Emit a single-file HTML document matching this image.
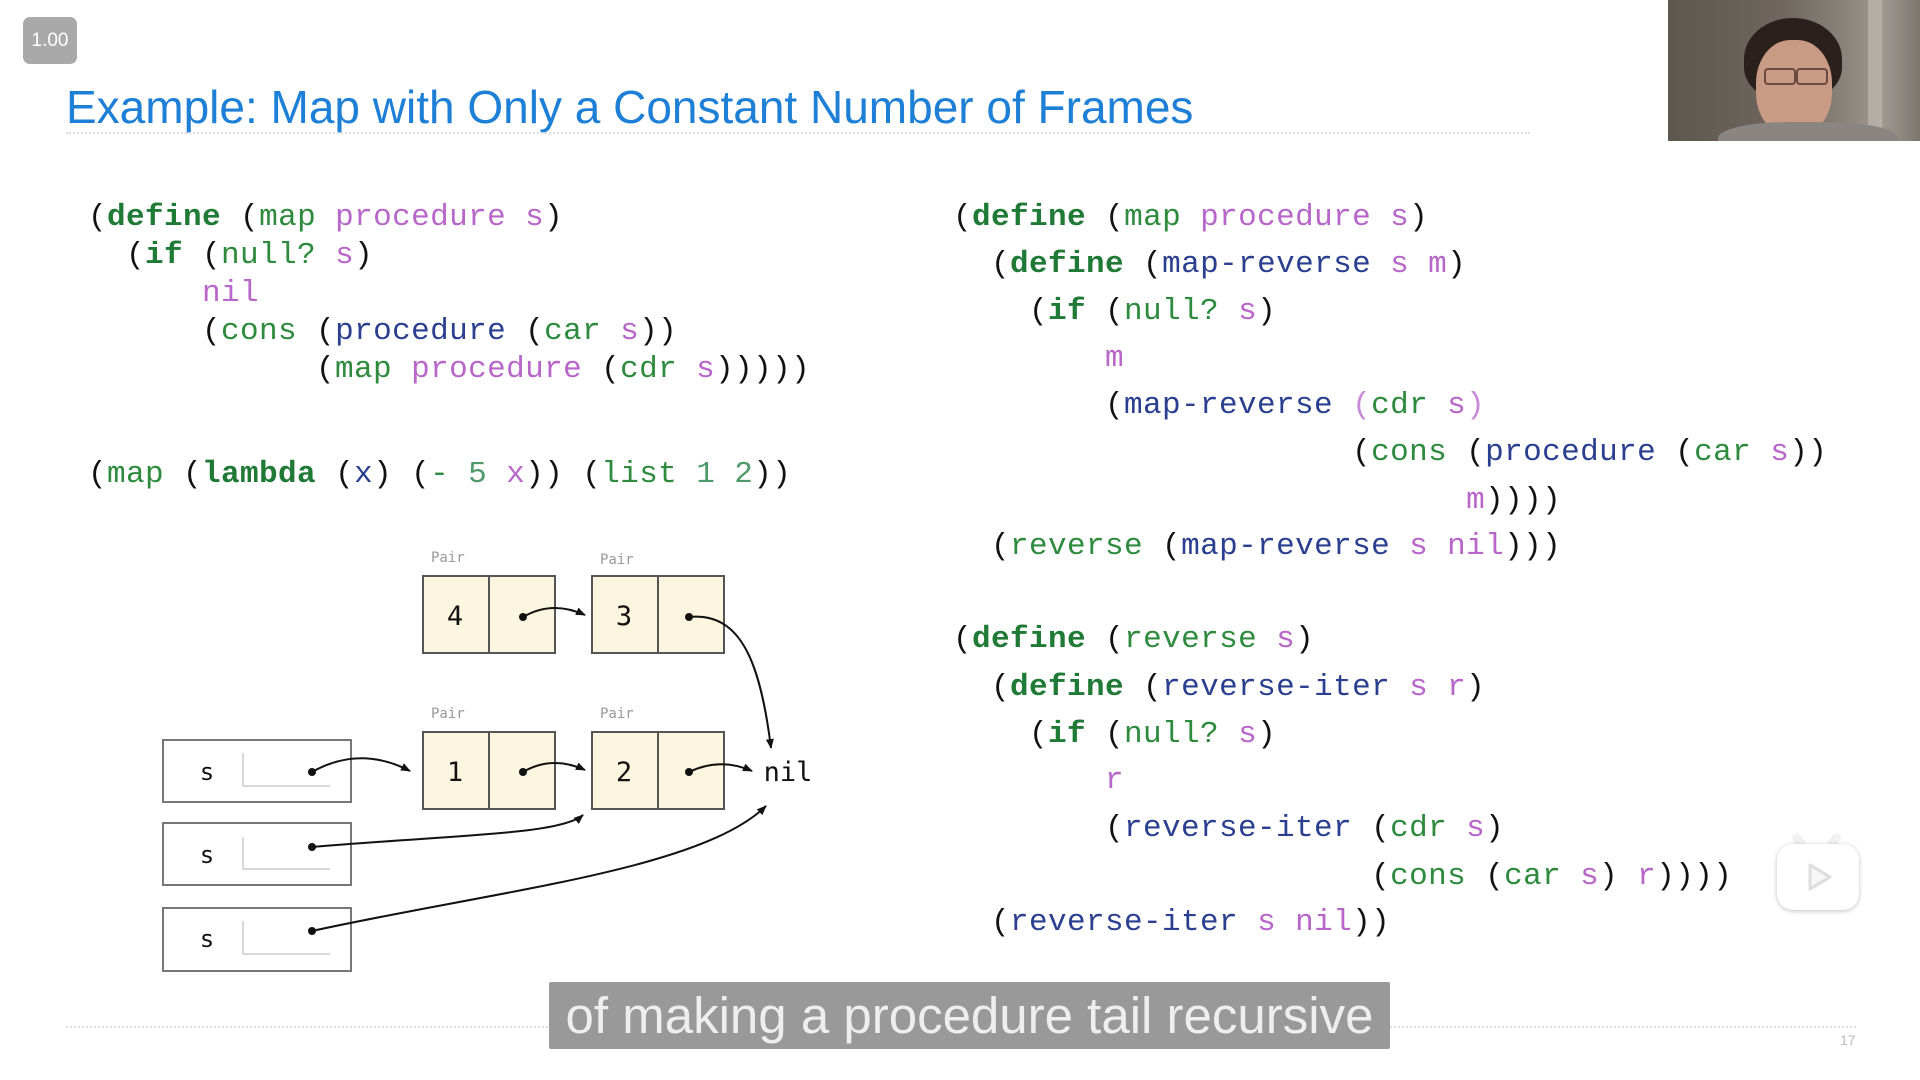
<!DOCTYPE html>
<html><head><meta charset="utf-8"><style>
html,body{margin:0;padding:0;background:#fff;}
body{width:1920px;height:1080px;position:relative;overflow:hidden;font-family:"Liberation Sans",sans-serif;}
.code{position:absolute;font-family:"Liberation Mono",monospace;font-size:31px;white-space:pre;line-height:40px;color:#111;letter-spacing:0.4px;}
.k{color:#1f7a36;font-weight:bold}
.b{color:#2e8b3e}
.p{color:#b866c9}
.n{color:#2a3f8f}
.num{color:#4f9a6a}
.pp{color:#c88ad6}
.lbl{position:absolute;font-family:"DejaVu Sans Mono",monospace;font-size:14px;color:#999;}
</style></head><body>

<div style="position:absolute;left:23px;top:17px;width:54px;height:47px;background:#a9a9a9;border-radius:7px;color:#fff;font-size:19px;line-height:47px;text-align:center;">1.00</div>

<div style="position:absolute;left:66px;top:80px;font-size:46px;color:#1d7fd6;white-space:nowrap;">Example: Map with Only a Constant Number of Frames</div>
<div style="position:absolute;left:66px;top:132px;width:1464px;border-top:2px dotted #ddd;"></div>
<div style="position:absolute;left:66px;top:1026px;width:1790px;border-top:2px dotted #ddd;"></div>
<div style="position:absolute;left:1840px;top:1032px;font-size:14px;color:#bbb;">17</div>

<!-- webcam -->
<div style="position:absolute;left:1668px;top:0;width:252px;height:141px;overflow:hidden;background:linear-gradient(90deg,#5e5750 0%,#6e665e 45%,#8a837b 70%,#a09992 85%,#7d766f 100%);">
  <div style="position:absolute;left:200px;top:0;width:14px;height:141px;background:#c5beb6;opacity:.6"></div>
  <div style="position:absolute;left:76px;top:18px;width:98px;height:82px;border-radius:50% 50% 40% 40%;background:#2a211c;"></div>
  <div style="position:absolute;left:88px;top:40px;width:76px;height:96px;border-radius:45%;background:#c99a84;"></div>
  <div style="position:absolute;left:96px;top:68px;width:28px;height:13px;border:2px solid #6a4a40;border-radius:4px;"></div>
  <div style="position:absolute;left:128px;top:68px;width:28px;height:13px;border:2px solid #6a4a40;border-radius:4px;"></div>
  <div style="position:absolute;left:50px;top:122px;width:180px;height:40px;border-radius:40% 40% 0 0;background:#8a8580;"></div>
</div>

<!-- left code -->
<div class="code" style="left:88px;top:198px;">(<span class="k">define</span> (<span class="b">map</span> <span class="p">procedure</span> <span class="p">s</span>)</div>
<div class="code" style="left:88px;top:236px;">  (<span class="k">if</span> (<span class="b">null?</span> <span class="p">s</span>)</div>
<div class="code" style="left:88px;top:274px;">      <span class="p">nil</span></div>
<div class="code" style="left:88px;top:312px;">      (<span class="b">cons</span> (<span class="n">procedure</span> (<span class="b">car</span> <span class="p">s</span>))</div>
<div class="code" style="left:88px;top:350px;">            (<span class="b">map</span> <span class="p">procedure</span> (<span class="b">cdr</span> <span class="p">s</span>)))))</div>
<div class="code" style="left:88px;top:455px;">(<span class="b">map</span> (<span class="k">lambda</span> (<span class="n">x</span>) (<span class="b">-</span> <span class="num">5</span> <span class="p">x</span>)) (<span class="b">list</span> <span class="num">1</span> <span class="num">2</span>))</div>

<!-- right code -->
<div class="code" style="left:953px;top:198px;">(<span class="k">define</span> (<span class="b">map</span> <span class="p">procedure</span> <span class="p">s</span>)</div>
<div class="code" style="left:953px;top:245px;">  (<span class="k">define</span> (<span class="n">map-reverse</span> <span class="p">s</span> <span class="p">m</span>)</div>
<div class="code" style="left:953px;top:292px;">    (<span class="k">if</span> (<span class="b">null?</span> <span class="p">s</span>)</div>
<div class="code" style="left:953px;top:339px;">        <span class="p">m</span></div>
<div class="code" style="left:953px;top:386px;">        (<span class="n">map-reverse</span> <span class="pp">(</span><span class="b">cdr</span> <span class="p">s</span><span class="pp">)</span></div>
<div class="code" style="left:953px;top:433px;">                     (<span class="b">cons</span> (<span class="n">procedure</span> (<span class="b">car</span> <span class="p">s</span>))</div>
<div class="code" style="left:953px;top:481px;">                           <span class="p">m</span>))))</div>
<div class="code" style="left:953px;top:527px;">  (<span class="b">reverse</span> (<span class="n">map-reverse</span> <span class="p">s</span> <span class="p">nil</span>)))</div>

<div class="code" style="left:953px;top:620px;">(<span class="k">define</span> (<span class="b">reverse</span> <span class="p">s</span>)</div>
<div class="code" style="left:953px;top:668px;">  (<span class="k">define</span> (<span class="n">reverse-iter</span> <span class="p">s</span> <span class="p">r</span>)</div>
<div class="code" style="left:953px;top:715px;">    (<span class="k">if</span> (<span class="b">null?</span> <span class="p">s</span>)</div>
<div class="code" style="left:953px;top:761px;">        <span class="p">r</span></div>
<div class="code" style="left:953px;top:809px;">        (<span class="n">reverse-iter</span> (<span class="b">cdr</span> <span class="p">s</span>)</div>
<div class="code" style="left:953px;top:857px;">                      (<span class="b">cons</span> (<span class="b">car</span> <span class="p">s</span>) <span class="p">r</span>))))</div>
<div class="code" style="left:953px;top:903px;">  (<span class="n">reverse-iter</span> <span class="p">s</span> <span class="p">nil</span>))</div>

<!-- diagram -->
<div class="lbl" style="left:431px;top:550px;">Pair</div>
<div class="lbl" style="left:600px;top:552px;">Pair</div>
<div class="lbl" style="left:431px;top:706px;">Pair</div>
<div class="lbl" style="left:600px;top:706px;">Pair</div>
<svg width="1920" height="1080" style="position:absolute;left:0;top:0" xmlns="http://www.w3.org/2000/svg">
<defs><marker id="a" markerWidth="10" markerHeight="10" refX="9" refY="5" orient="auto" markerUnits="userSpaceOnUse"><path d="M0,1 L10,5 L0,9 Z" fill="#111"/></marker></defs>
<g stroke="#555" stroke-width="2" fill="#fcf6e0">
<rect x="423" y="576" width="132" height="77"/><line x1="489" y1="576" x2="489" y2="653"/>
<rect x="592" y="576" width="132" height="77"/><line x1="658" y1="576" x2="658" y2="653"/>
<rect x="423" y="732" width="132" height="77"/><line x1="489" y1="732" x2="489" y2="809"/>
<rect x="592" y="732" width="132" height="77"/><line x1="658" y1="732" x2="658" y2="809"/>
</g>
<g stroke="#777" stroke-width="2" fill="#fff">
<rect x="163" y="740" width="188" height="62"/>
<rect x="163" y="823" width="188" height="62"/>
<rect x="163" y="908" width="188" height="63"/>
</g>
<g stroke="#ccc" stroke-width="1.5" fill="none">
<path d="M243,753 V786 H330"/><path d="M243,837 V869 H330"/><path d="M243,921 V954 H330"/>
</g>
<g font-family="DejaVu Sans Mono,monospace" font-size="27" fill="#111" text-anchor="middle">
<text x="455" y="625">4</text><text x="624" y="625">3</text>
<text x="455" y="781">1</text><text x="624" y="781">2</text>
<text x="207" y="780" font-size="24">s</text><text x="207" y="863" font-size="24">s</text><text x="207" y="947" font-size="24">s</text>
<text x="788" y="781" font-size="27">nil</text>
</g>
<g fill="#111"><circle cx="523" cy="617" r="4"/><circle cx="689" cy="617" r="4"/><circle cx="523" cy="772" r="4"/><circle cx="689" cy="772" r="4"/><circle cx="312" cy="772" r="4"/><circle cx="312" cy="847" r="4"/><circle cx="312" cy="931" r="4"/></g>
<g stroke="#111" stroke-width="2" fill="none" marker-end="url(#a)">
<path d="M523,617 Q552,600 585,615"/>
<path d="M689,617 C740,612 760,660 771,748"/>
<path d="M523,772 Q552,755 585,770"/>
<path d="M689,772 Q720,757 752,771"/>
<path d="M312,772 Q360,745 410,771"/>
<path d="M312,847 C450,835 560,835 583,815"/>
<path d="M312,931 C500,890 700,870 766,806"/>
</g>
</svg>

<!-- play icon -->
<div style="position:absolute;left:1775px;top:834px;width:86px;height:70px;">
  <div style="position:absolute;left:22px;top:0;width:5px;height:16px;background:#f2f2f2;transform:rotate(-35deg);border-radius:3px;box-shadow:0 0 3px #ccc"></div>
  <div style="position:absolute;left:56px;top:0;width:5px;height:16px;background:#f2f2f2;transform:rotate(35deg);border-radius:3px;box-shadow:0 0 3px #ccc"></div>
  <div style="position:absolute;left:2px;top:10px;width:82px;height:66px;background:#fff;border-radius:16px;box-shadow:0 1px 5px rgba(0,0,0,.25);"></div>
  <svg style="position:absolute;left:0;top:0" width="86" height="80"><path d="M35,31 L55,43 L35,55 Z" fill="#f6f6f6" stroke="#ddd" stroke-width="3" stroke-linejoin="round"/></svg>
</div>

<!-- subtitle -->
<div style="position:absolute;left:549px;top:982px;width:841px;height:67px;background:#999;border-radius:2px;color:#eee;font-size:51px;display:flex;align-items:center;justify-content:center;white-space:nowrap;">of making a procedure tail recursive</div>

</body></html>
